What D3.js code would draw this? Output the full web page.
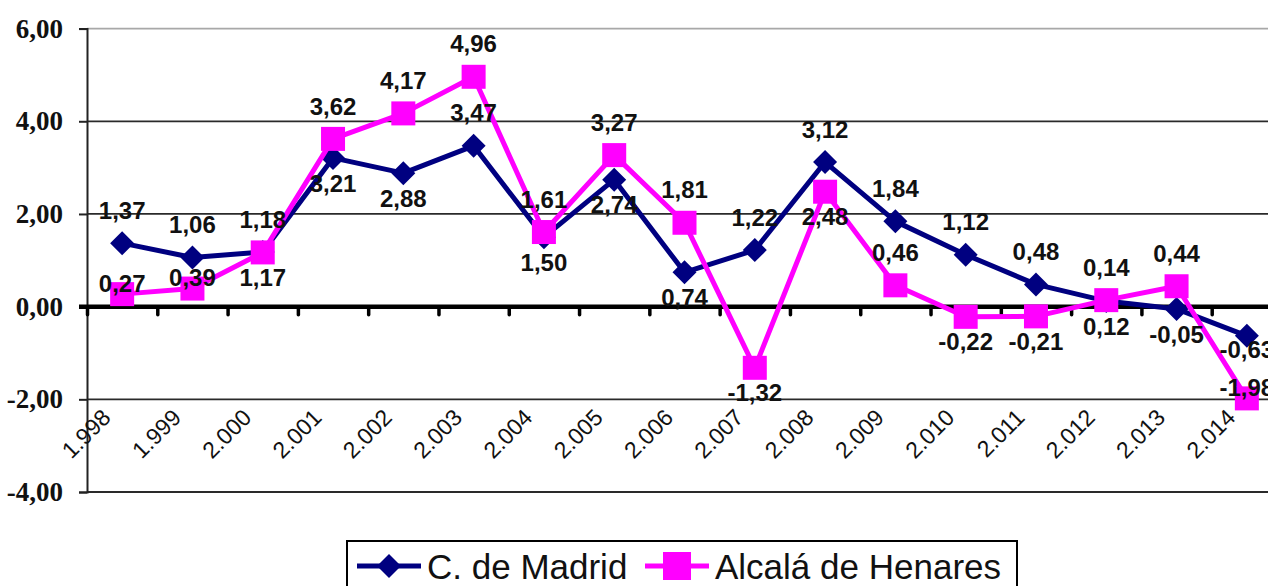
<!DOCTYPE html>
<html>
<head>
<meta charset="utf-8">
<script src="https://cdn.jsdelivr.net/npm/d3@7"></script>
<style>
  body { margin: 0; background: #fff; }
  svg { display: block; }
</style>
</head>
<body>
<div id="chart-area"></div>
<script>
const years = ['1.998', '1.999', '2.000', '2.001', '2.002', '2.003', '2.004', '2.005', '2.006',
               '2.007', '2.008', '2.009', '2.010', '2.011', '2.012', '2.013', '2.014']
const madrid = [1.37, 1.06, 1.18, 3.21, 2.88, 3.47, 1.50, 2.74, 0.74,
                1.22, 3.12, 1.84, 1.12, 0.48, 0.12, -0.05, -0.63]
const alcala = [0.27, 0.39, 1.17, 3.62, 4.17, 4.96, 1.61, 3.27, 1.81,
                -1.32, 2.48, 0.46, -0.22, -0.21, 0.14, 0.44, -1.98]
const yTicks = [-4, -2, 0, 2, 4, 6]
const seriesNames = ['C. de Madrid', 'Alcalá de Henares']

// where each value label sits: a = above, b = below, na / nb = close above / below
const madridLabelPos = ['a', 'a', 'a', 'b', 'b', 'a', 'b', 'b', 'b', 'a', 'a', 'a', 'a', 'a', 'b', 'b', 'nb']
const alcalaLabelPos = ['na', 'na', 'b', 'a', 'a', 'a', 'a', 'a', 'a', 'b', 'b', 'a', 'b', 'b', 'a', 'a', 'na']

const width = 1268
const height = 586
const plot = { left: 87, right: 1282, top: 28.6, bottom: 492 }

const locale = d3.formatLocale({ decimal: ',', thousands: '.', grouping: [3], currency: ['', ''], minus: '-' })
const fmt = locale.format('.2f')

const svg = d3.select('#chart-area')
              .append('svg')
              .attr('width', width)
              .attr('height', height)

const x = d3.scaleBand()
            .domain(years)
            .range([plot.left, plot.right])

const y = d3.scaleLinear()
            .domain([-4, 6])
            .range([plot.bottom, plot.top])

const cx = d => x(d) + x.bandwidth() / 2

// GRIDLINES
svg.append('g')
   .selectAll('line')
   .data(yTicks.filter(d => d !== 0))
   .enter()
   .append('line')
   .attr('x1', plot.left)
   .attr('x2', width)
   .attr('y1', d => y(d))
   .attr('y2', d => y(d))
   .attr('stroke', d => d === 6 ? '#a8a8a8' : '#2a2a2a')
   .attr('stroke-width', 1.8)

// Y AXIS
const yAxisCall = d3.axisLeft(y)
                    .tickValues(yTicks)
                    .tickSize(8)
                    .tickPadding(16)
                    .tickFormat(fmt)

const yAxis = svg.append('g')
   .attr('class', 'y-axis')
   .attr('transform', 'translate(' + plot.left + ',0)')
   .call(yAxisCall)
yAxis.select('.domain').attr('stroke', '#222').attr('stroke-width', 2)
yAxis.selectAll('.tick line').attr('stroke', '#222').attr('stroke-width', 2)
yAxis.selectAll('text')
     .attr('font-family', '"Liberation Serif", "Times New Roman", serif')
     .attr('font-weight', 'bold')
     .attr('font-size', '27px')
     .attr('fill', '#111')

// ZERO LINE WITH CATEGORY TICKS
const edges = d3.scaleLinear().domain([0, years.length]).range([plot.left, plot.right])
const xAxisCall = d3.axisBottom(edges)
                    .ticks(years.length)
                    .tickSize(8)
                    .tickFormat('')
const xAxis = svg.append('g')
   .attr('class', 'x-axis')
   .attr('transform', 'translate(0,' + y(0) + ')')
   .call(xAxisCall)
xAxis.select('.domain').remove()
xAxis.selectAll('.tick line').attr('stroke', '#000').attr('stroke-width', 3.5).attr('stroke-linecap', 'round')
svg.append('line')
   .attr('x1', plot.left - 8)
   .attr('x2', width)
   .attr('y1', y(0))
   .attr('y2', y(0))
   .attr('stroke', '#000')
   .attr('stroke-width', 4.5)

// CATEGORY LABELS
svg.append('g')
   .selectAll('text')
   .data(years)
   .enter()
   .append('text')
   .attr('transform', d => 'translate(' + (cx(d) - 10) + ',419) rotate(-45)')
   .attr('text-anchor', 'end')
   .attr('font-family', '"Liberation Sans", Arial, sans-serif')
   .attr('font-size', '23px')
   .attr('fill', '#111')
   .text(d => d)

// SERIES
const diamond = 'M0,-12L12,0L0,12L-12,0Z'
const series = [
  { name: seriesNames[0], values: madrid, pos: madridLabelPos, color: '#000080', marker: 'diamond' },
  { name: seriesNames[1], values: alcala, pos: alcalaLabelPos, color: '#ff00ff', marker: 'square' }
]
const offsets = { a: -33, b: 25, na: -11, nb: 14 }

const line = d3.line()
               .x((d, i) => cx(years[i]))
               .y(d => y(d))

series.forEach(s => {
  const g = svg.append('g')
  g.append('path')
   .datum(s.values)
   .attr('d', line)
   .attr('fill', 'none')
   .attr('stroke', s.color)
   .attr('stroke-width', 5)
   .attr('stroke-linejoin', 'round')

  if (s.marker === 'diamond') {
    g.selectAll('path.mk')
     .data(s.values)
     .enter()
     .append('path')
     .attr('class', 'mk')
     .attr('d', diamond)
     .attr('transform', (d, i) => 'translate(' + cx(years[i]) + ',' + y(d) + ')')
     .attr('fill', s.color)
  } else {
    g.selectAll('rect')
     .data(s.values)
     .enter()
     .append('rect')
     .attr('x', (d, i) => cx(years[i]) - 12)
     .attr('y', d => y(d) - 12)
     .attr('width', 24)
     .attr('height', 24)
     .attr('fill', s.color)
  }
})

// VALUE LABELS
series.forEach(s => {
  svg.append('g')
     .selectAll('text')
     .data(s.values)
     .enter()
     .append('text')
     .attr('x', (d, i) => cx(years[i]))
     .attr('y', (d, i) => y(d) + offsets[s.pos[i]])
     .attr('dy', '0.36em')
     .attr('text-anchor', 'middle')
     .attr('font-family', '"Liberation Sans", Arial, sans-serif')
     .attr('font-weight', 'bold')
     .attr('font-size', '24px')
     .attr('fill', '#111')
     .text(d => fmt(d))
})

// LEGEND
const legend = svg.append('g').attr('class', 'legend')
legend.append('rect')
      .attr('x', 347)
      .attr('y', 541)
      .attr('width', 670)
      .attr('height', 70)
      .attr('fill', '#fff')
      .attr('stroke', '#000')
      .attr('stroke-width', 2)

const legendX = [357, 645]
series.forEach((s, i) => {
  const lg = legend.append('g').attr('transform', 'translate(' + legendX[i] + ',566)')
  lg.append('line')
    .attr('x1', 0)
    .attr('x2', 64)
    .attr('stroke', s.color)
    .attr('stroke-width', 5)
  if (s.marker === 'diamond') {
    lg.append('path').attr('d', diamond).attr('transform', 'translate(32,0)').attr('fill', s.color)
  } else {
    lg.append('rect').attr('x', 18).attr('y', -14).attr('width', 28).attr('height', 28).attr('fill', s.color)
  }
  lg.append('text')
    .attr('x', 70)
    .attr('dy', '0.36em')
    .attr('font-family', '"Liberation Sans", Arial, sans-serif')
    .attr('font-size', '35px')
    .attr('fill', '#111')
    .text(s.name)
})
</script>
</body>
</html>
